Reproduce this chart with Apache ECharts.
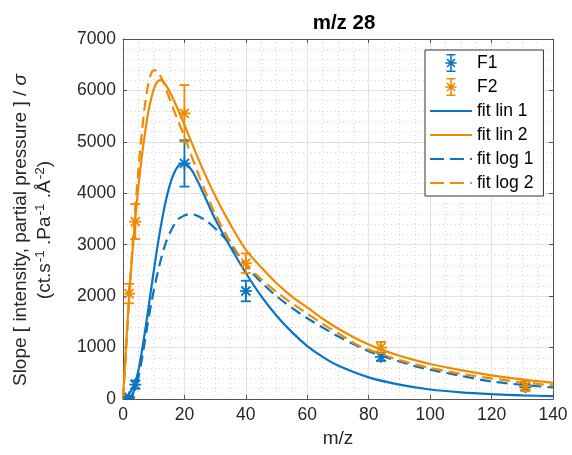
<!DOCTYPE html>
<html>
<head>
<meta charset="utf-8">
<script src="https://cdn.jsdelivr.net/npm/echarts@6/dist/echarts.min.js"></script>
<style>html,body{margin:0;padding:0;background:#fff}#c{width:572px;height:455px}</style>
</head>
<body>
<div id="c"></div>
<script>
// ---- data ----
const xTicks = [0, 20, 40, 60, 80, 100, 120, 140];
const yTicks = [0, 1000, 2000, 3000, 4000, 5000, 6000, 7000];

const f1X = [2, 4, 20, 40, 84, 131];
const f1Y = [30, 280, 4580, 2100, 820, 230];
const f1Err = [30, 80, 450, 200, 80, 50];

const f2X = [2, 4, 20, 40, 84, 131];
const f2Y = [2050, 3450, 5555, 2640, 1000, 250];
const f2Err = [190, 340, 550, 190, 110, 100];

const fitLin1 = [[0.8,0],[2,100],[3,200],[4,330],[5,550],[6,880],[7,1250],[8,1650],[9,2070],[10,2480],[11,2880],[12,3250],[13,3580],[14,3870],[15,4110],[16,4300],[17,4440],[18,4530],[19,4575],[20,4580],[21,4550],[22,4480],[23,4390],[25,4150],[30,3500],[35,2950],[40,2450],[45,2000],[50,1620],[55,1300],[60,1030],[65,820],[70,650],[80,420],[90,280],[100,185],[110,130],[120,95],[130,70],[140,55]];
const fitLin2 = [[0,0],[1,1050],[2,2000],[3,2800],[4,3500],[5,4120],[6,4650],[7,5100],[8,5500],[9,5800],[10,6020],[11,6150],[12,6200],[13,6180],[14,6100],[15,6000],[17,5750],[20,5330],[25,4600],[30,3950],[35,3390],[40,2900],[45,2560],[50,2250],[55,1990],[60,1780],[65,1560],[70,1370],[76,1170],[80,1060],[85,940],[90,840],[95,755],[100,680],[110,560],[120,460],[130,380],[140,315]];
const fitLog1 = [[2.5,0],[3.5,150],[5,420],[6.5,900],[8,1450],[9.5,1950],[11,2380],[12.5,2750],[14,3050],[16,3320],[18,3500],[20,3570],[22,3595],[24,3570],[27,3470],[31,3260],[35,3000],[40,2600],[45,2270],[50,2000],[55,1770],[60,1570],[65,1390],[70,1220],[76,1040],[80,930],[85,820],[90,730],[95,640],[100,570],[110,450],[120,340],[130,275],[140,225]];
const fitLog2 = [[0,0],[1,900],[2,1950],[3,2900],[4,3700],[5,4450],[6,5100],[7,5650],[8,6050],[9,6300],[10,6390],[11,6390],[12,6300],[13,6180],[14,6030],[16,5700],[18,5400],[20,5100],[25,4300],[30,3600],[35,3050],[40,2620],[45,2330],[50,2080],[55,1860],[60,1660],[65,1460],[70,1280],[76,1060],[80,960],[85,850],[90,755],[95,675],[100,605],[110,490],[120,400],[130,325],[140,265]];

const legendNames = ['F1', 'F2', 'fit lin 1', 'fit lin 2', 'fit log 1', 'fit log 2'];
const titleText = 'm/z 28';
const xName = 'm/z';

// ---- styling ----
const BLUE = '#0a74c4';
const ORANGE = '#f08a00';
const FONT = 'Liberation Sans, Arial, Helvetica, sans-serif';
const TXT = '#262626';

const errIcon = 'path://M9.3,2 H10.7 V18 H9.3 Z M6,2 H14 V3.4 H6 Z M6,16.6 H14 V18 H6 Z M5,9.3 H15 V10.7 H5 Z M6,7 L7,6 L14,13 L13,14 Z M13,6 L14,7 L7,14 L6,13 Z';
const solidIcon = 'path://M0,0 H42 V2.2 H0 Z';
const dashIcon = 'path://M0,0 H14 V2.2 H0 Z M20,0 H34 V2.2 H20 Z M40,0 H42 V2.2 H40 Z';

function errData(xs, ys, es) { return xs.map((x, i) => [x, ys[i], es[i]]); }

function renderErr(params, api) {
  const x = api.value(0), y = api.value(1), e = api.value(2);
  const c = api.coord([x, y]);
  const hi = api.coord([x, y + e]);
  const lo = api.coord([x, y - e]);
  const color = api.visual('color');
  const w = 5, r = 6, d = r * 0.75;
  const st = { stroke: color, lineWidth: 1.8, fill: null };
  const L = (x1, y1, x2, y2) => ({ type: 'line', shape: { x1, y1, x2, y2 }, style: st });
  return {
    type: 'group',
    children: [
      L(hi[0], hi[1], lo[0], lo[1]),
      L(hi[0] - w, hi[1], hi[0] + w, hi[1]),
      L(lo[0] - w, lo[1], lo[0] + w, lo[1]),
      L(c[0] - r, c[1], c[0] + r, c[1]),
      L(c[0], c[1] - r, c[0], c[1] + r),
      L(c[0] - d, c[1] - d, c[0] + d, c[1] + d),
      L(c[0] - d, c[1] + d, c[0] + d, c[1] - d)
    ]
  };
}

function lineSeries(name, data, color, dashed) {
  return {
    name, type: 'line', data, showSymbol: false, symbol: 'none',
    smooth: 0.3, clip: true,
    color,
    lineStyle: { color, width: 2.2, type: dashed ? [11, 6] : 'solid' },
    z: 3
  };
}

const chart = echarts.init(document.getElementById('c'), null, { renderer: 'canvas' });
chart.setOption({
  animation: false,
  backgroundColor: '#fff',
  textStyle: { fontFamily: FONT },
  title: {
    text: titleText, left: 339, top: 8, textAlign: 'center',
    textStyle: { fontFamily: FONT, fontSize: 20.5, fontWeight: 'bold', color: '#000' }
  },
  grid: { left: 123, right: 19, top: 39, bottom: 56, containLabel: false },
  legend: {
    orient: 'vertical', left: 425, top: 50,
    data: [
      { name: legendNames[0], icon: errIcon },
      { name: legendNames[1], icon: errIcon },
      { name: legendNames[2], icon: solidIcon },
      { name: legendNames[3], icon: solidIcon },
      { name: legendNames[4], icon: dashIcon },
      { name: legendNames[5], icon: dashIcon }
    ],
    itemWidth: 42, itemHeight: 18, itemGap: 6,
    padding: [4, 10, 4, 5],
    borderColor: '#333', borderWidth: 1, backgroundColor: '#fff',
    textStyle: { fontFamily: FONT, fontSize: 17.5, color: '#000' }
  },
  xAxis: [{
    type: 'value', min: 0, max: 140, interval: 20,
    name: xName, nameLocation: 'middle', nameGap: 30,
    nameTextStyle: { fontFamily: FONT, fontSize: 19, color: TXT },
    axisLine: { show: true, lineStyle: { color: '#555', width: 1 } },
    axisTick: { show: true, inside: true, length: 4, lineStyle: { color: '#555' } },
    axisLabel: { fontFamily: FONT, fontSize: 17.5, color: TXT, margin: 7,
      formatter: v => xTicks.includes(v) ? String(v) : '' },
    splitLine: { show: true, lineStyle: { color: '#e2e2e2', width: 1 } },
    minorTick: { show: false, splitNumber: 4 },
    minorSplitLine: { show: true, lineStyle: { color: '#d4d4d4', type: [1, 3], width: 1 } }
  }, {
    type: 'value', min: 0, max: 140, interval: 20, position: 'top',
    axisLine: { show: true, onZero: false, lineStyle: { color: '#555', width: 1 } },
    axisTick: { show: true, inside: true, length: 4, lineStyle: { color: '#555' } },
    axisLabel: { show: false }, splitLine: { show: false }
  }],
  yAxis: [{
    type: 'value', min: 0, max: 7000, interval: 1000,
    name: '{a|Slope [ intensity, partial pressure ] / }{i|σ}\n{a|(ct.s}{s|-1}{a| .Pa}{s|-1}{a| .Å}{s|-2}{a|)}',
    nameLocation: 'middle', nameGap: 66,
    nameTextStyle: {
      fontFamily: FONT, fontSize: 19, color: TXT, lineHeight: 24,
      padding: [0, 22, 0, 0],
      rich: {
        a: { fontFamily: FONT, fontSize: 19, color: TXT, lineHeight: 24 },
        i: { fontFamily: FONT, fontSize: 19, color: TXT, fontStyle: 'italic', lineHeight: 24 },
        s: { fontFamily: FONT, fontSize: 13.5, color: TXT, lineHeight: 12, verticalAlign: 'top', padding: [0, 0, 0, 1] }
      }
    },
    axisLine: { show: true, lineStyle: { color: '#555', width: 1 } },
    axisTick: { show: true, inside: true, length: 4, lineStyle: { color: '#555' } },
    axisLabel: { fontFamily: FONT, fontSize: 17.5, color: TXT, margin: 7,
      formatter: v => yTicks.includes(v) ? String(v) : '' },
    splitLine: { show: true, lineStyle: { color: '#e2e2e2', width: 1 } },
    minorTick: { show: false, splitNumber: 5 },
    minorSplitLine: { show: true, lineStyle: { color: '#d4d4d4', type: [1, 3], width: 1 } }
  }, {
    type: 'value', min: 0, max: 7000, interval: 1000, position: 'right',
    axisLine: { show: true, onZero: false, lineStyle: { color: '#555', width: 1 } },
    axisTick: { show: true, inside: true, length: 4, lineStyle: { color: '#555' } },
    axisLabel: { show: false }, splitLine: { show: false }
  }],
  series: [
    { name: 'F1', type: 'custom', renderItem: renderErr, data: errData(f1X, f1Y, f1Err),
      encode: { x: 0, y: 1 }, itemStyle: { color: BLUE }, color: BLUE, clip: true, z: 4 },
    { name: 'F2', type: 'custom', renderItem: renderErr, data: errData(f2X, f2Y, f2Err),
      encode: { x: 0, y: 1 }, itemStyle: { color: ORANGE }, color: ORANGE, clip: true, z: 4 },
    lineSeries('fit lin 1', fitLin1, BLUE, false),
    lineSeries('fit lin 2', fitLin2, ORANGE, false),
    lineSeries('fit log 1', fitLog1, BLUE, true),
    lineSeries('fit log 2', fitLog2, ORANGE, true)
  ]
});
</script>
</body>
</html>
